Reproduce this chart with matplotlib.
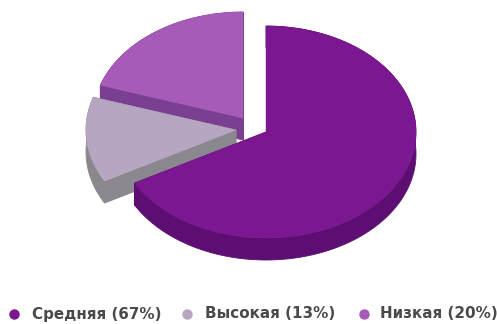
import numpy as np
import matplotlib
matplotlib.use("Agg")
import matplotlib.pyplot as plt
from matplotlib.patches import Polygon

labels = ["Средняя", "Высокая", "Низкая"]
values = [67, 13, 20]
top_colors = ["#7b1791", "#b7a6c1", "#a75bb9"]
side_colors = ["#5c0e72", "#8b878e", "#7a3f90"]
apexes = [(266, 132), (236, 130), (243, 118)]
draw_order = [2, 1, 0]

RX, RY, DEPTH = 150, 106, 22

fig = plt.figure(figsize=(4.97, 3.24), dpi=100)
ax = fig.add_axes([0, 0, 1, 1])
ax.set_xlim(0, 497)
ax.set_ylim(324, 0)
ax.axis("off")

edges = np.concatenate([[0], np.cumsum(values)]) / sum(values) * 2 * np.pi
down = np.array([0, DEPTH])

for z, i in enumerate(draw_order):
    t = np.linspace(edges[i], edges[i + 1], 160)
    apex = np.array(apexes[i], dtype=float)
    arc = apex + np.column_stack([RX * np.sin(t), -RY * np.cos(t)])
    style = dict(facecolor=side_colors[i], edgecolor=side_colors[i], lw=0.6, zorder=3 * z + 1)
    ax.add_patch(Polygon(np.vstack([arc, (arc + down)[::-1]]), closed=True, **style))
    for end in (arc[0], arc[-1]):
        ax.add_patch(Polygon([apex, end, end + down, apex + down], closed=True, **style))
    ax.add_patch(Polygon(np.vstack([apex, arc]), closed=True, facecolor=top_colors[i],
                         edgecolor=top_colors[i], lw=0.3, zorder=3 * z + 2))

marker_x = [14, 187, 364]
text_x = [32, 205, 380]
LEG_Y = 314
for mx, tx, lab, val, col in zip(marker_x, text_x, labels, values, top_colors):
    ax.plot([mx], [LEG_Y], "o", ms=7.5, color=col, mec="none", zorder=20)
    ax.text(tx, LEG_Y, f"{lab} ({val}%)", family="DejaVu Sans", weight="bold",
            fontsize=10.9, color="#4a4a4a", va="center", ha="left", zorder=20)

fig.savefig("out.png", dpi=100, facecolor="white")
